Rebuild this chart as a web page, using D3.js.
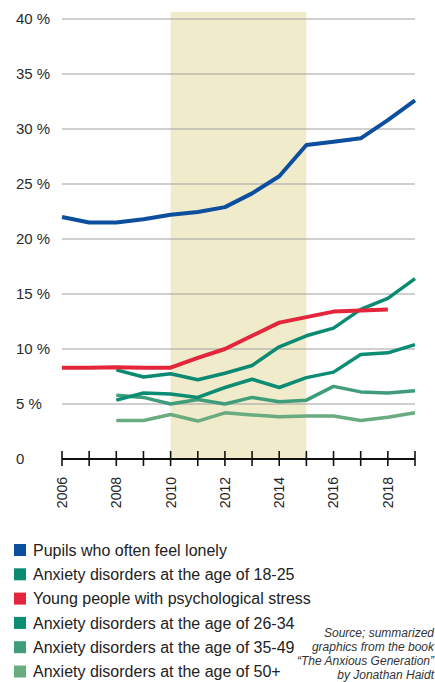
<!DOCTYPE html>
<html>
<head>
<meta charset="utf-8">
<script src="https://cdn.jsdelivr.net/npm/d3@7"></script>
<style>
  body { margin: 0; background: #fff; }
  svg { display: block; font-family: "Liberation Sans", Arial, sans-serif; }
</style>
</head>
<body>
<svg id="chart"></svg>
<script>
const WIDTH = 435;
const HEIGHT = 682;

const years = d3.range(2006, 2020);
const yTicks = [0, 5, 10, 15, 20, 25, 30, 35, 40];
const yearLabels = [2006, 2008, 2010, 2012, 2014, 2016, 2018];
const shadeYears = [2010, 2015];

const lonely = [22.0, 21.5, 21.5, 21.8, 22.2, 22.45, 22.9, 24.15, 25.7, 28.55, 28.85, 29.15, 30.8, 32.6];
const stress = [8.3, 8.3, 8.35, 8.3, 8.3, 9.2, 10.0, 11.2, 12.4, 12.9, 13.4, 13.5, 13.6, null];
const anx1825 = [null, null, 8.1, 7.45, 7.75, 7.2, 7.8, 8.5, 10.2, 11.2, 11.9, 13.6, 14.6, 16.4];
const anx2634 = [null, null, 5.35, 6.0, 5.9, 5.6, 6.5, 7.25, 6.5, 7.4, 7.9, 9.5, 9.65, 10.4];
const anx3549 = [null, null, 5.8, 5.6, 5.0, 5.4, 5.0, 5.6, 5.2, 5.35, 6.6, 6.1, 6.0, 6.2];
const anx50 = [null, null, 3.5, 3.5, 4.05, 3.45, 4.2, 4.0, 3.85, 3.9, 3.9, 3.5, 3.8, 4.2];

const seriesNames = [
  "Pupils who often feel lonely",
  "Anxiety disorders at the age of 18-25",
  "Young people with psychological stress",
  "Anxiety disorders at the age of 26-34",
  "Anxiety disorders at the age of 35-49",
  "Anxiety disorders at the age of 50+",
];
const seriesValues = [lonely, anx1825, stress, anx2634, anx3549, anx50];
const seriesColors = ["#0c4f9e", "#0a8a72", "#e3263b", "#0b8c73", "#3f9d79", "#6aab80"];
const seriesWidths = [4, 3.5, 4, 3.5, 3.5, 3.5];
// drawing order: lighter greens at the back, lonely and stress on top
const drawOrder = [5, 4, 3, 1, 2, 0];

const sourceLines = [
  "Source; summarized",
  "graphics from the book",
  "\u201CThe Anxious Generation\u201D",
  "by Jonathan Haidt",
];

const margin = { left: 62, right: 20, top: 19, bottom: 223 };

const x = d3.scaleLinear().domain([2006, 2019]).range([margin.left, WIDTH - margin.right]);
const y = d3.scaleLinear().domain([0, 40]).range([HEIGHT - margin.bottom, margin.top]);

const svg = d3.select("#chart").attr("width", WIDTH).attr("height", HEIGHT);

// shaded period
svg.append("rect")
  .attr("x", x(shadeYears[0]))
  .attr("width", x(shadeYears[1]) - x(shadeYears[0]))
  .attr("y", y(40) - 7)
  .attr("height", y(0) - y(40) + 7)
  .attr("fill", "#efebcb");

// grid lines
svg.append("g")
  .selectAll("line")
  .data(yTicks.filter((d) => d > 0))
  .join("line")
  .attr("x1", x(2006))
  .attr("x2", x(2019))
  .attr("y1", (d) => y(d))
  .attr("y2", (d) => y(d))
  .attr("stroke", "#a0a0a0")
  .attr("stroke-width", 1.2);

// y labels
svg.append("g")
  .selectAll("text")
  .data(yTicks)
  .join("text")
  .attr("x", 16)
  .attr("y", (d) => y(d))
  .attr("dy", "0.35em")
  .attr("font-size", 15)
  .attr("fill", "#2a2a2a")
  .text((d) => (d === 0 ? "0" : `${d} %`));

// lines
const line = d3.line()
  .defined((d) => d.v !== null)
  .x((d) => x(d.year))
  .y((d) => y(d.v));

drawOrder.forEach((i) => {
  svg.append("path")
    .datum(years.map((year, j) => ({ year, v: seriesValues[i][j] })))
    .attr("d", line)
    .attr("fill", "none")
    .attr("stroke", seriesColors[i])
    .attr("stroke-width", seriesWidths[i])
    .attr("stroke-linejoin", "round");
});

// x axis
const xAxis = svg.append("g").attr("transform", `translate(0,${y(0)})`);
xAxis.append("line")
  .attr("x1", x(2006))
  .attr("x2", x(2019))
  .attr("stroke", "#111")
  .attr("stroke-width", 2);
xAxis.selectAll("line.tick")
  .data(years)
  .join("line")
  .attr("class", "tick")
  .attr("x1", (d) => x(d))
  .attr("x2", (d) => x(d))
  .attr("y1", -8)
  .attr("y2", 7)
  .attr("stroke", "#111")
  .attr("stroke-width", 1.6);
xAxis.selectAll("text")
  .data(yearLabels)
  .join("text")
  .attr("transform", (d) => `translate(${x(d)},18) rotate(-90)`)
  .attr("text-anchor", "end")
  .attr("dy", "0.35em")
  .attr("font-size", 14)
  .attr("fill", "#222")
  .text((d) => d);

// legend
const legend = svg.append("g").attr("transform", "translate(14,550)");
seriesNames.forEach((name, i) => {
  const row = legend.append("g").attr("transform", `translate(0,${i * 24.3})`);
  row.append("rect")
    .attr("x", 0)
    .attr("y", -6)
    .attr("width", 12)
    .attr("height", 12)
    .attr("fill", seriesColors[i]);
  row.append("text")
    .attr("x", 19)
    .attr("dy", "0.35em")
    .attr("font-size", 16)
    .attr("fill", "#222")
    .text(name);
});

// source note
svg.append("g")
  .selectAll("text")
  .data(sourceLines)
  .join("text")
  .attr("x", 434)
  .attr("y", (d, i) => 637 + i * 14)
  .attr("text-anchor", "end")
  .attr("font-size", 12)
  .attr("font-style", "italic")
  .attr("fill", "#333")
  .text((d) => d);
</script>
</body>
</html>
